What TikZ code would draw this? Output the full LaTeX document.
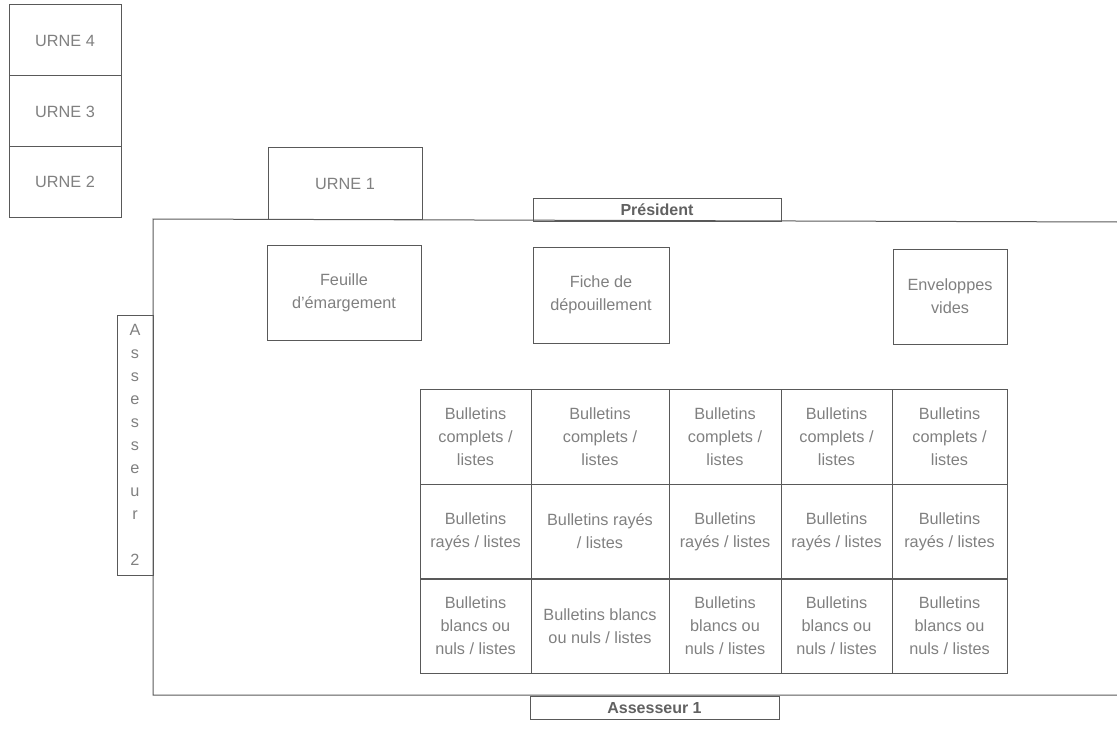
\documentclass[tikz,border=0pt]{standalone}
\usepackage{fontspec}
\setmainfont{Liberation Sans}
\begin{document}
\begin{tikzpicture}[x=0.75pt,y=-0.75pt,
  line/.style={draw=black!65, line width=0.75pt},
  boxs/.style={line, rectangle, inner sep=0pt, align=center,
    text=black!50, font=\fontsize{12.2}{17.25}\selectfont},
  wh/.style 2 args={minimum width={#1*0.75pt}, minimum height={#2*0.75pt}},
  title/.style={boxs, text=black!62, font=\fontsize{12}{17.25}\selectfont\bfseries},
  cell/.style={boxs, wh={#1}{95}},
]
\useasboundingbox (0,0) rectangle (1117,738);

% main table outline (open to the right)
\coordinate (mtr) at (1117,222);
\coordinate (mtl) at (153,219);
\coordinate (mbl) at (153,695);
\coordinate (mbr) at (1117,695);
\draw[line] (mtr) -- (mtl) -- (mbl) -- (mbr);

% urnes
\node[boxs, wh={112}{71}] (u4) at (65,40.5) {URNE 4};
\node[boxs, wh={112}{71}] (u3) at (65,111.5) {URNE 3};
\node[boxs, wh={112}{70}] (u2) at (65,182) {URNE 2};
\node[boxs, wh={154}{71}] (u1) at (345,183.5) {URNE 1};

% people
\node[title, wh={248}{22}] (pres) at (657,210) {Président};
\node[title, wh={249}{23}] (ass1) at (654.5,708) {Assesseur 1};
\node[boxs, wh={36}{260}] (ass2) at (135,445)
  {A\\s\\s\\e\\s\\s\\e\\u\\r\\\mbox{}\\2};

% documents
\node[boxs, wh={154}{95}] (feuille) at (344,292.5) {Feuille\\d'émargement};
\node[boxs, wh={136}{96}] (fiche) at (601,295) {Fiche de\\dépouillement};
\node[boxs, wh={114}{95}] (env) at (950,296.5) {Enveloppes\\vides};

% bulletins grid
% columns: 420,531,669,781,892,1007 ; rows: 390,484,579,673
\node[cell=111] (c11) at (475.5,437) {Bulletins\\complets /\\listes};
\node[cell=138] (c12) at (600,437) {Bulletins\\complets /\\listes};
\node[cell=112] (c13) at (725,437) {Bulletins\\complets /\\listes};
\node[cell=111] (c14) at (836.5,437) {Bulletins\\complets /\\listes};
\node[cell=115] (c15) at (949.5,437) {Bulletins\\complets /\\listes};

\node[cell=111] (c21) at (475.5,531.5) {Bulletins\\rayés / listes};
\node[cell=138] (c22) at (600,531.5) {Bulletins rayés\\/ listes};
\node[cell=112] (c23) at (725,531.5) {Bulletins\\rayés / listes};
\node[cell=111] (c24) at (836.5,531.5) {Bulletins\\rayés / listes};
\node[cell=115] (c25) at (949.5,531.5) {Bulletins\\rayés / listes};

\node[cell=111] (c31) at (475.5,626) {Bulletins\\blancs ou\\nuls / listes};
\node[cell=138] (c32) at (600,626) {Bulletins blancs\\ou nuls / listes};
\node[cell=112] (c33) at (725,626) {Bulletins\\blancs ou\\nuls / listes};
\node[cell=111] (c34) at (836.5,626) {Bulletins\\blancs ou\\nuls / listes};
\node[cell=115] (c35) at (949.5,626) {Bulletins\\blancs ou\\nuls / listes};
\end{tikzpicture}
\end{document}
